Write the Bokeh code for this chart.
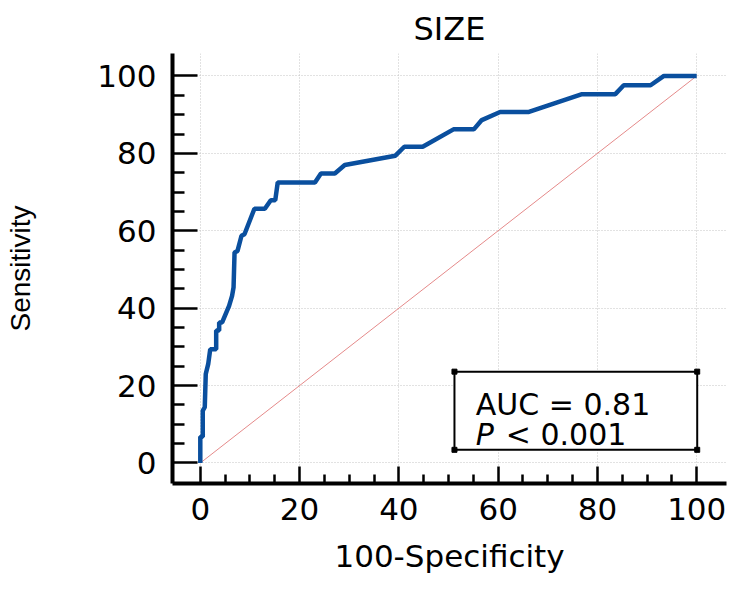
from bokeh.plotting import figure
from bokeh.models import Range1d, FixedTicker, Label, BoxAnnotation
from bokeh.embed import file_html
from bokeh.resources import INLINE

# ROC curve (100-Specificity vs Sensitivity, %)
fpr = [0, 0, 0.5, 0.5, 0.9, 1.1, 1.6, 2.0, 3.2, 3.2, 3.8, 3.8, 4.4, 5.8, 6.4, 6.7,
       6.9, 7.5, 8.3, 8.9, 10.9, 13.0, 14.2, 15.1, 15.6, 23.1, 24.3, 27.1, 29.1,
       39.3, 41.1, 44.8, 51.0, 55.1, 56.7, 60.4, 66.2, 76.9, 83.6, 85.3, 90.7, 93.4, 100]
tpr = [0, 6.8, 6.8, 13.5, 14.4, 23.0, 25.6, 29.4, 29.4, 34.2, 34.2, 36.3, 36.3, 40.6, 43.2, 45.4,
       54.4, 54.8, 58.7, 59.1, 65.7, 65.7, 67.9, 67.9, 72.5, 72.5, 74.8, 74.8, 77.0,
       79.4, 81.7, 81.7, 86.2, 86.2, 88.6, 90.7, 90.7, 95.3, 95.3, 97.6, 97.6, 100, 100]

diag_x = [0, 100]
diag_y = [0, 100]

major_ticks = [0, 20, 40, 60, 80, 100]
minor_ticks = [v for v in range(5, 100, 5) if v % 20 != 0]

title_text = "SIZE"
x_title = "100-Specificity"
y_title = "Sensitivity"
auc_text = "AUC = 0.81"
p_sym = "P"
p_text = "< 0.001"

# legend box extent (data units)
box_l, box_r, box_b, box_t = 51.2, 100.1, 3.4, 23.6

p = figure(width=744, height=590, x_range=Range1d(-5.6, 106.0), y_range=Range1d(-5.3, 105.8),
           output_backend="svg", toolbar_location=None, title=title_text,
           min_border_left=172, min_border_right=18, min_border_top=53, min_border_bottom=107)
p.outline_line_color = None
p.background_fill_color = "white"
p.border_fill_color = "white"

p.title.align = "center"
p.title.offset = 3
p.title.text_font = "DejaVu Sans"
p.title.text_font_size = "32px"
p.title.text_font_style = "normal"
p.title.text_color = "black"
p.title.standoff = 12

# grid
for g in (p.xgrid[0], p.ygrid[0]):
    g.grid_line_color = "#c4c4c4"
    g.grid_line_dash = "1 2"
    g.grid_line_width = 1

# axes
xa = p.xaxis[0]
ya = p.yaxis[0]
for ax in (xa, ya):
    ax.ticker = FixedTicker(ticks=major_ticks, minor_ticks=minor_ticks)
    ax.axis_line_width = 4
    ax.axis_line_color = "black"
    ax.major_tick_line_width = 2.5
    ax.minor_tick_line_width = 2.5
    ax.major_tick_line_color = "black"
    ax.minor_tick_line_color = "black"
    ax.major_tick_out = 0
    ax.minor_tick_out = 0
    ax.major_label_text_font = "DejaVu Sans"
    ax.major_label_text_font_size = "31px"
    ax.major_label_text_color = "black"
    ax.axis_label_text_font_style = "normal"
    ax.axis_label_text_color = "black"

xa.major_tick_in = 17
xa.minor_tick_in = 9
xa.major_label_standoff = 14
xa.axis_label = x_title
xa.axis_label_text_font = "DejaVu Sans"
xa.axis_label_text_font_size = "31px"
xa.axis_label_standoff = 15

ya.major_tick_in = 25
ya.minor_tick_in = 12
ya.major_label_standoff = 16
ya.axis_label = y_title
ya.axis_label_text_font = "Liberation Sans"
ya.axis_label_text_font_size = "28px"
ya.axis_label_standoff = 58

# diagonal reference and ROC curve
p.line(diag_x, diag_y, line_color="#e58a8a", line_width=1)
p.line(fpr, tpr, line_color="#0a4f9e", line_width=4.5)

# annotation box
p.add_layout(BoxAnnotation(left=box_l, right=box_r, bottom=box_b, top=box_t,
                           fill_color="white", fill_alpha=1.0,
                           line_color="black", line_alpha=1.0, line_width=2))
corners = p.scatter([box_l, box_r, box_l, box_r], [box_b, box_b, box_t, box_t],
                    marker="square", size=5, color="black")
corners.level = "overlay"

p.add_layout(Label(x=55.5, y=15.2, text=auc_text, text_font="DejaVu Sans",
                   text_font_size="30px", text_baseline="alphabetic", text_color="black"))
p.add_layout(Label(x=55.5, y=7.3, text=p_sym, text_font="DejaVu Sans", text_font_style="italic",
                   text_font_size="30px", text_baseline="alphabetic", text_color="black"))
p.add_layout(Label(x=55.5, y=7.3, x_offset=30, text=p_text, text_font="DejaVu Sans",
                   text_font_size="30px", text_baseline="alphabetic", text_color="black"))

open("out.html", "w").write(file_html(p, INLINE))
